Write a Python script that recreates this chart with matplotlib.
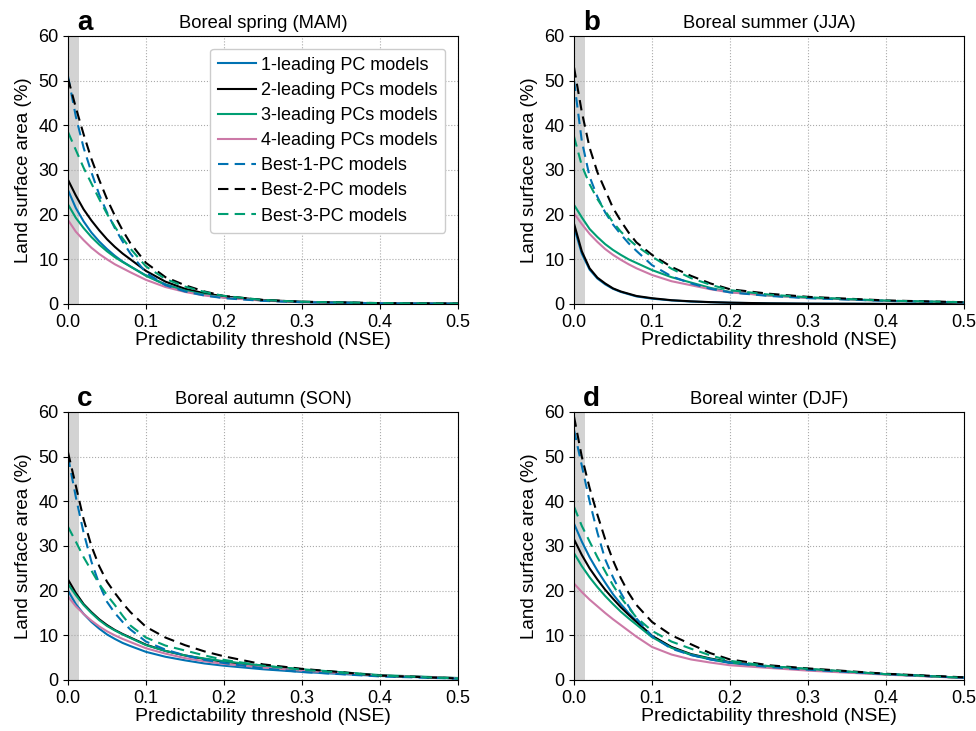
import matplotlib
matplotlib.use("Agg")
import matplotlib.pyplot as plt

plt.rcParams['font.family'] = ['Liberation Sans', 'DejaVu Sans']

x = [0, 0.01, 0.02, 0.03, 0.04, 0.05, 0.06, 0.07, 0.08, 0.1, 0.125, 0.15, 0.175, 0.2, 0.25, 0.3, 0.4, 0.5]

labels = ["1-leading PC models", "2-leading PCs models", "3-leading PCs models",
          "4-leading PCs models", "Best-1-PC models", "Best-2-PC models", "Best-3-PC models"]
colors = ["#0072B2", "#000000", "#009E73", "#CC79A7", "#0072B2", "#000000", "#009E73"]
styles = ["-", "-", "-", "-", "--", "--", "--"]

titles = ["Boreal spring (MAM)", "Boreal summer (JJA)", "Boreal autumn (SON)", "Boreal winter (DJF)"]
letters = ["a", "b", "c", "d"]

# Panel a (MAM)
mam_pc1 = [25.5, 21.5, 18.5, 16, 14, 12.3, 10.8, 9.5, 8.4, 6.4, 4.4, 3.0, 2.1, 1.5, 0.8, 0.45, 0.15, 0.05]
mam_pc2 = [27.8, 24.3, 21.2, 18.7, 16.5, 14.5, 12.8, 11.3, 10.0, 7.4, 5.0, 3.4, 2.4, 1.7, 0.9, 0.5, 0.15, 0.05]
mam_pc3 = [22.3, 19.3, 17, 15, 13.3, 11.8, 10.5, 9.4, 8.4, 6.3, 4.3, 3.0, 2.1, 1.5, 0.8, 0.45, 0.15, 0.05]
mam_pc4 = [18.8, 16.2, 14.3, 12.6, 11.2, 10, 8.9, 8.0, 7.1, 5.4, 3.8, 2.7, 1.9, 1.4, 0.75, 0.4, 0.15, 0.05]
mam_b1 = [51, 42, 35, 29.5, 24.5, 20.5, 17, 14, 11.3, 7.0, 4.2, 2.8, 1.9, 1.3, 0.7, 0.4, 0.15, 0.05]
mam_b2 = [50.5, 44, 38, 32.5, 27.8, 23.5, 19.8, 16.5, 13.6, 9.2, 6.0, 4.2, 2.8, 1.8, 0.9, 0.5, 0.2, 0.1]
mam_b3 = [38.5, 34.5, 30.5, 27, 23.5, 20.2, 17.3, 14.7, 12.4, 8.4, 5.6, 3.9, 2.7, 1.8, 0.9, 0.5, 0.2, 0.1]

# Panel b (JJA)
jja_pc1 = [17.2, 11.3, 7.7, 5.7, 4.4, 3.4, 2.7, 2.2, 1.7, 1.2, 0.8, 0.55, 0.4, 0.28, 0.14, 0.07, 0.02, 0.0]
jja_pc2 = [18, 11.8, 8.0, 5.9, 4.6, 3.5, 2.8, 2.3, 1.8, 1.3, 0.85, 0.6, 0.42, 0.3, 0.15, 0.08, 0.03, 0.0]
jja_pc3 = [22.2, 19.4, 16.8, 15, 13.4, 12.1, 11, 10, 9.2, 7.6, 6.0, 4.8, 3.6, 2.7, 1.9, 1.4, 0.7, 0.35]
jja_pc4 = [20.3, 17.9, 15.7, 13.9, 12.3, 11, 9.9, 8.9, 8.0, 6.5, 5.1, 4.2, 3.3, 2.6, 1.9, 1.4, 0.7, 0.35]
jja_b1 = [50, 36.5, 28.5, 24, 20.5, 17.8, 15.6, 13.6, 11.9, 8.7, 6.2, 4.6, 3.4, 2.6, 1.8, 1.3, 0.7, 0.35]
jja_b2 = [53, 43, 35, 29.5, 25.5, 21.5, 18.6, 16, 13.8, 11, 8.3, 6.3, 4.6, 3.3, 2.3, 1.6, 0.8, 0.4]
jja_b3 = [37.5, 31, 26.8, 23.5, 20.8, 18.3, 16.2, 14.5, 13, 10.6, 7.9, 5.8, 4.3, 3.1, 2.1, 1.5, 0.75, 0.4]

# Panel c (SON)
son_pc1 = [20, 17, 14.8, 13, 11.5, 10.2, 9.2, 8.3, 7.6, 6.3, 5.2, 4.4, 3.7, 3.2, 2.4, 1.8, 0.9, 0.35]
son_pc2 = [22.5, 19.5, 17, 15.2, 13.6, 12.3, 11.2, 10.3, 9.5, 7.9, 6.5, 5.5, 4.7, 4.1, 3.1, 2.3, 1.0, 0.4]
son_pc3 = [21.5, 19, 16.8, 15, 13.4, 12.1, 11.1, 10.2, 9.4, 7.8, 6.5, 5.5, 4.8, 4.2, 3.2, 2.4, 1.1, 0.45]
son_pc4 = [18.7, 16.5, 14.8, 13.3, 12, 10.9, 10, 9.2, 8.5, 7.1, 5.9, 4.9, 4.2, 3.6, 2.8, 2.1, 1.0, 0.4]
son_b1 = [50, 41, 33, 26.5, 21.5, 17.5, 15, 13, 11.3, 8.6, 6.8, 5.5, 4.5, 3.8, 2.6, 1.8, 0.8, 0.3]
son_b2 = [51, 43.5, 36, 30, 25.5, 22, 19.5, 17.2, 15.2, 11.9, 9.5, 7.8, 6.4, 5.3, 3.5, 2.5, 1.0, 0.35]
son_b3 = [34.3, 31, 27.5, 24.5, 21.5, 19, 16.8, 14.4, 12.2, 9.5, 7.7, 6.6, 5.5, 4.5, 3.2, 2.3, 1.0, 0.35]

# Panel d (DJF)
djf_pc1 = [35, 31, 27.5, 24.5, 21.8, 19.2, 17, 15, 13.2, 9.8, 7.3, 5.6, 4.6, 3.8, 2.9, 2.3, 1.3, 0.5]
djf_pc2 = [31.5, 28, 25, 22.5, 20.2, 18.2, 16.3, 14.6, 13, 9.9, 7.4, 5.8, 4.8, 4.0, 3.0, 2.4, 1.3, 0.5]
djf_pc3 = [28.4, 25.5, 23, 20.8, 18.8, 17, 15.3, 13.8, 12.4, 9.6, 7.2, 5.7, 4.7, 3.9, 3.0, 2.4, 1.3, 0.5]
djf_pc4 = [21.6, 19.7, 18, 16.5, 15, 13.6, 12.3, 11, 9.7, 7.4, 5.7, 4.6, 3.9, 3.3, 2.7, 2.1, 1.2, 0.45]
djf_b1 = [56, 48, 40, 33, 27, 23, 19.5, 16.5, 13.8, 9.8, 7.0, 5.6, 4.6, 3.9, 2.9, 2.3, 1.3, 0.5]
djf_b2 = [59, 50, 43, 37, 31.5, 26.8, 22.8, 19.5, 16.8, 13, 10, 8.0, 6.0, 4.6, 3.3, 2.6, 1.4, 0.6]
djf_b3 = [38.8, 34.5, 31, 27.5, 24.3, 21.2, 18.5, 16.2, 14, 11, 8.6, 7.0, 5.5, 4.3, 3.1, 2.5, 1.3, 0.5]

panels = [
    [mam_pc1, mam_pc2, mam_pc3, mam_pc4, mam_b1, mam_b2, mam_b3],
    [jja_pc1, jja_pc2, jja_pc3, jja_pc4, jja_b1, jja_b2, jja_b3],
    [son_pc1, son_pc2, son_pc3, son_pc4, son_b1, son_b2, son_b3],
    [djf_pc1, djf_pc2, djf_pc3, djf_pc4, djf_b1, djf_b2, djf_b3],
]

fig = plt.figure(figsize=(9.76, 7.31), dpi=100)
W, H = 976, 731
boxes = [(68, 36), (574, 36), (68, 412), (574, 412)]
aw, ah = 390, 268

for i, (left, top) in enumerate(boxes):
    ax = fig.add_axes([left / W, (H - top - ah) / H, aw / W, ah / H])
    ax.axvspan(0, 0.014, color="#d3d3d3", zorder=0, lw=0)
    for series, c, ls, lab in zip(panels[i], colors, styles, labels):
        if ls == "--":
            ax.plot(x, series, color=c, lw=1.5, ls="--", dashes=(5, 3), label=lab)
        else:
            ax.plot(x, series, color=c, lw=1.5, ls="-", label=lab)
    ax.set_xlim(0, 0.5)
    ax.set_ylim(0, 60)
    ax.set_xticks([0, 0.1, 0.2, 0.3, 0.4, 0.5])
    ax.set_yticks([0, 10, 20, 30, 40, 50, 60])
    ax.grid(True, ls=":", color="#aaaaaa", lw=0.8)
    ax.set_axisbelow(True)
    ax.tick_params(labelsize=13)
    ax.set_xlabel("Predictability threshold (NSE)", fontsize=14, labelpad=1)
    ax.set_ylabel("Land surface area (%)", fontsize=13.5, labelpad=4)
    ax.set_title(titles[i], fontsize=13.2, pad=6)
    ax.text(0.023, 1.0, letters[i], transform=ax.transAxes, fontsize=20,
            fontweight="bold", va="bottom", ha="left")
    if i == 0:
        ax.legend(loc="upper right", fontsize=13, handlelength=2.1,
                  handletextpad=0.25, labelspacing=0.45, borderpad=0.45,
                  borderaxespad=0.7, framealpha=1)

fig.savefig("out.png", dpi=100)
